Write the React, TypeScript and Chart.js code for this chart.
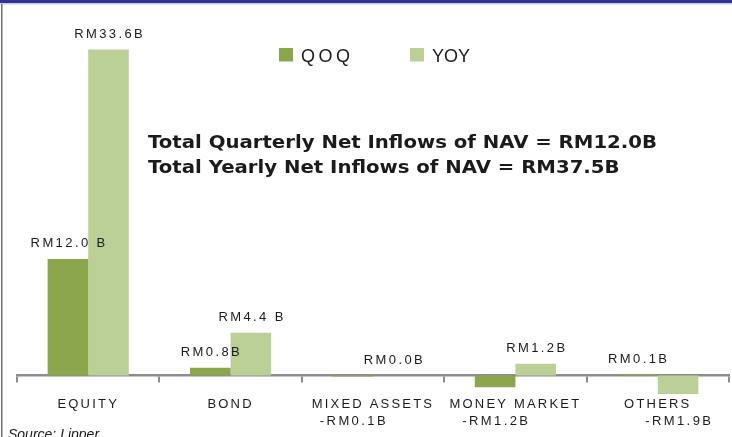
import React, { useEffect, useRef } from "react";
import { Chart, registerables } from "chart.js";

Chart.register(...registerables);

const categories = ["EQUITY", "BOND", "MIXED ASSETS", "MONEY MARKET", "OTHERS"];
const seriesNames = ["QOQ", "YOY"];
const qoqValues = [12.0, 0.8, -0.1, -1.2, 0.1];
const yoyValues = [33.6, 4.4, 0.0, 1.2, -1.9];
const qoqLabels = ["RM12.0 B", "RM0.8B", "-RM0.1B", "-RM1.2B", "RM0.1B"];
const yoyLabels = ["RM33.6B", "RM4.4 B", "RM0.0B", "RM1.2B", "-RM1.9B"];
const titleLines = [
  "Total Quarterly Net Inflows of NAV = RM12.0B",
  "Total Yearly Net Inflows of NAV = RM37.5B",
];
const sourceText = "Source: Lipper";

const QOQ_COLOR = "#8BA64D";
const YOY_COLOR = "#BBD096";
const TEXT_COLOR = "#1c1a1b";
const AXIS_COLOR = "#8c8c8c";
const LABEL_FONT = "13px 'Liberation Sans', Arial, sans-serif";

const decorPlugin = {
  id: "decor",
  beforeDraw(chart: any) {
    const ctx = chart.ctx;
    ctx.save();
    ctx.fillStyle = "#ffffff";
    ctx.fillRect(0, 0, chart.width, chart.height);
    // frame
    ctx.fillStyle = "#333394";
    ctx.fillRect(0, 0, chart.width, 3);
    ctx.fillStyle = "#c9cbe6";
    ctx.fillRect(0, 3, chart.width, 1.5);
    ctx.fillStyle = "#707070";
    ctx.fillRect(1, 4, 1.5, chart.height - 4);
    ctx.restore();
    // letter spacing for axis tick labels
    (ctx as any).letterSpacing = "2.2px";
  },
  afterDatasetsDraw(chart: any) {
    const ctx = chart.ctx;
    const yScale = chart.scales.y;
    const zeroY = yScale.getPixelForValue(0);
    const labelSets = [qoqLabels, yoyLabels];
    ctx.save();
    ctx.font = LABEL_FONT;
    (ctx as any).letterSpacing = "2.4px";
    ctx.fillStyle = TEXT_COLOR;
    ctx.textAlign = "center";
    ctx.textBaseline = "middle";
    chart.data.datasets.forEach((ds: any, di: number) => {
      const meta = chart.getDatasetMeta(di);
      meta.data.forEach((bar: any, i: number) => {
        const v = ds.data[i];
        const txt = labelSets[di][i];
        const x = bar.x + 1.2;
        const y = v >= 0 ? bar.y - 15.5 : zeroY + 46;
        ctx.fillText(txt, x, y);
      });
    });
    ctx.restore();
  },
  afterDraw(chart: any) {
    const ctx = chart.ctx;
    ctx.save();
    // legend
    const legendItems = [
      { name: seriesNames[0], color: QOQ_COLOR, x: 279, spacing: "3.5px" },
      { name: seriesNames[1], color: YOY_COLOR, x: 410, spacing: "0px" },
    ];
    ctx.font = "18px 'Liberation Sans', Arial, sans-serif";
    ctx.textBaseline = "alphabetic";
    ctx.textAlign = "left";
    legendItems.forEach((it) => {
      ctx.fillStyle = it.color;
      ctx.fillRect(it.x, 48, 14, 13.5);
      ctx.fillStyle = TEXT_COLOR;
      (ctx as any).letterSpacing = it.spacing;
      ctx.fillText(it.name, it.x + 22, 62);
    });
    // title
    (ctx as any).letterSpacing = "0px";
    ctx.font = "bold 18px 'DejaVu Sans', Verdana, sans-serif";
    const w = ctx.measureText(titleLines[0]).width;
    const sx = 509 / w;
    titleLines.forEach((line, i) => {
      ctx.save();
      ctx.translate(148, 147.5 + i * 25);
      ctx.scale(sx, 1);
      ctx.fillStyle = TEXT_COLOR;
      ctx.fillText(line, 0, 0);
      ctx.restore();
    });
    // source
    ctx.font = "italic 14px 'Liberation Sans', Arial, sans-serif";
    ctx.fillStyle = TEXT_COLOR;
    ctx.fillText(sourceText, 8, 439);
    ctx.restore();
  },
};

export default function App() {
  const ref = useRef<HTMLCanvasElement | null>(null);
  useEffect(() => {
    document.body.style.margin = "0";
    const canvas = ref.current;
    if (!canvas) return;
    const chart = new Chart(canvas, {
      type: "bar",
      data: {
        labels: categories,
        datasets: [
          {
            label: seriesNames[0],
            data: qoqValues,
            backgroundColor: QOQ_COLOR,
            borderWidth: 0,
            categoryPercentage: 0.57,
            barPercentage: 1.0,
          },
          {
            label: seriesNames[1],
            data: yoyValues,
            backgroundColor: YOY_COLOR,
            borderWidth: 0,
            categoryPercentage: 0.57,
            barPercentage: 1.0,
          },
        ],
      },
      options: {
        responsive: false,
        animation: false,
        devicePixelRatio: 1,
        layout: { padding: { left: 17, right: 3, top: 16.6, bottom: 13 } },
        plugins: {
          legend: { display: false },
          tooltip: { enabled: false },
          title: { display: false },
        },
        scales: {
          x: {
            position: { y: 0 } as any,
            offset: true,
            grid: {
              offset: true,
              drawOnChartArea: false,
              drawTicks: true,
              tickLength: 6,
              color: AXIS_COLOR,
              lineWidth: 2,
            },
            border: { display: true, color: AXIS_COLOR, width: 2.5 },
            ticks: {
              color: TEXT_COLOR,
              font: { family: "'Liberation Sans', Arial, sans-serif", size: 13 },
              padding: 15.5,
              maxRotation: 0,
              minRotation: 0,
              autoSkip: false,
            },
          },
          y: { display: false, min: -5, max: 37 },
        },
      },
      plugins: [decorPlugin],
    });
    return () => chart.destroy();
  }, []);
  return (
    <div style={{ position: "fixed", left: 0, top: 0, width: 732, height: 437 }}>
      <canvas ref={ref} width={732} height={437} />
    </div>
  );
}
